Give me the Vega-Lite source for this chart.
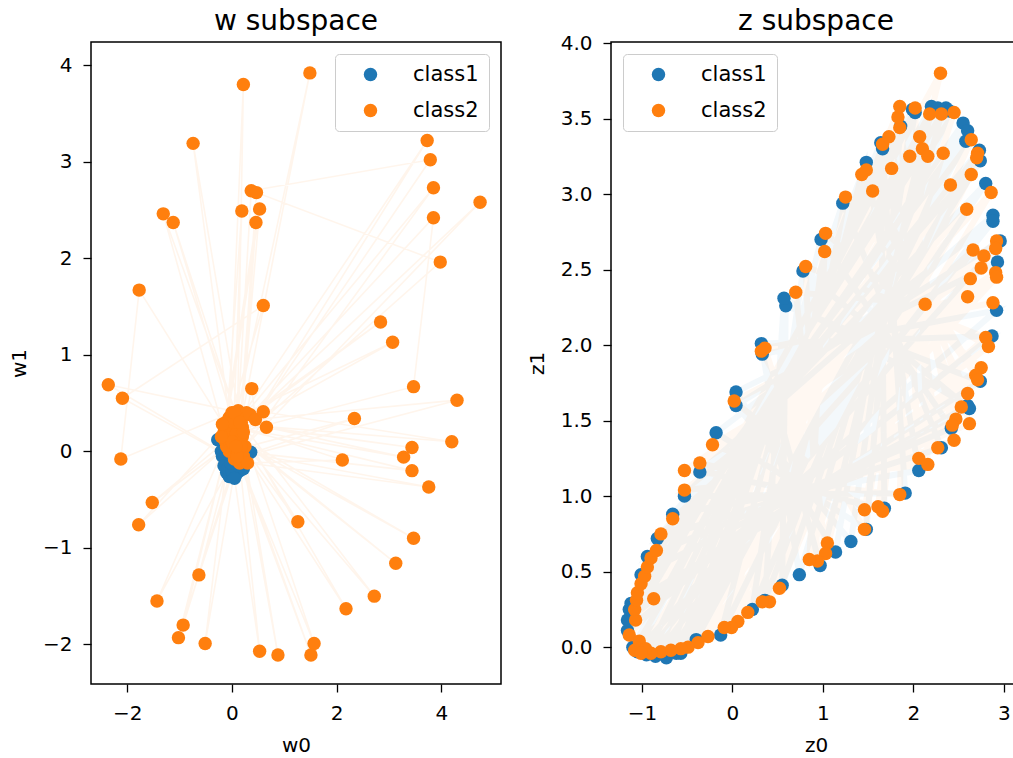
{
  "$schema": "https://vega.github.io/schema/vega-lite/v6.json",
  "background": "white",
  "padding": {"left": 8, "top": 7, "right": 0, "bottom": 0},
  "config": {
    "font": "DejaVu Sans",
    "view": {"stroke": "black", "strokeWidth": 1.5},
    "axis": {"grid": false, "domain": false, "tickColor": "black", "tickSize": 8, "tickWidth": 1.3, "labelFontSize": 20, "labelColor": "black", "labelPadding": 11, "titleFontSize": 20, "titleFontWeight": "normal", "titleColor": "black", "labelFont": "DejaVu Sans", "titleFont": "DejaVu Sans"},
    "axisX": {"titlePadding": 12},
    "axisY": {"titlePadding": 13},
    "title": {"fontSize": 28, "fontWeight": "normal", "color": "black", "font": "DejaVu Sans", "baseline": "alphabetic", "offset": 6, "frame": "group"},
    "legend": {"offset": 12, "padding": 10, "strokeColor": "#cccccc", "fillColor": "rgba(255,255,255,0.8)", "cornerRadius": 4, "symbolSize": 180, "symbolType": "circle", "labelFontSize": 21, "labelFont": "DejaVu Sans", "labelColor": "black", "labelOffset": 32, "rowPadding": 14, "symbolOffset": 15}
  },
  "datasets": {
    "w": [
      {"c":"class1","i":0,"x":-0.18,"y":-0.05},{"c":"class1","i":1,"x":0.15,"y":-0.20},{"c":"class1","i":2,"x":-0.10,"y":-0.22},{"c":"class1","i":3,"x":0.25,"y":-0.05},{"c":"class1","i":4,"x":-0.05,"y":-0.26},{"c":"class1","i":5,"x":0.20,"y":-0.12},{"c":"class1","i":6,"x":0.02,"y":-0.25},{"c":"class1","i":7,"x":-0.12,"y":0.05},{"c":"class1","i":8,"x":0.08,"y":-0.24},{"c":"class1","i":9,"x":-0.05,"y":-0.10},{"c":"class1","i":10,"x":0.36,"y":-0.01},{"c":"class1","i":11,"x":-0.15,"y":-0.15},{"c":"class1","i":12,"x":0.05,"y":-0.15},{"c":"class1","i":13,"x":-0.27,"y":0.12},{"c":"class1","i":14,"x":0.10,"y":-0.05},{"c":"class1","i":15,"x":0.00,"y":0.00},{"c":"class1","i":16,"x":0.12,"y":0.05},{"c":"class1","i":17,"x":-0.15,"y":0.12},{"c":"class1","i":18,"x":0.05,"y":0.10},{"c":"class1","i":19,"x":0.18,"y":0.02},{"c":"class1","i":20,"x":-0.08,"y":-0.18},{"c":"class1","i":21,"x":0.12,"y":-0.15},{"c":"class1","i":22,"x":0.00,"y":-0.20},{"c":"class1","i":23,"x":-0.20,"y":0.00},{"c":"class1","i":24,"x":0.22,"y":-0.18},{"c":"class1","i":25,"x":0.05,"y":-0.28},{"c":"class1","i":26,"x":-0.02,"y":-0.12},
      {"c":"class2","i":0,"x":0.00,"y":0.15},{"c":"class2","i":1,"x":1.49,"y":3.92},{"c":"class2","i":2,"x":0.10,"y":0.10},{"c":"class2","i":3,"x":0.22,"y":3.80},{"c":"class2","i":4,"x":-0.05,"y":0.35},{"c":"class2","i":5,"x":-0.74,"y":3.19},{"c":"class2","i":6,"x":0.12,"y":0.42},{"c":"class2","i":7,"x":0.37,"y":2.70},{"c":"class2","i":8,"x":3.79,"y":3.02},{"c":"class2","i":9,"x":0.20,"y":0.15},{"c":"class2","i":10,"x":3.73,"y":3.22},{"c":"class2","i":11,"x":0.05,"y":0.25},{"c":"class2","i":12,"x":3.85,"y":2.73},{"c":"class2","i":13,"x":0.25,"y":0.05},{"c":"class2","i":14,"x":4.74,"y":2.58},{"c":"class2","i":15,"x":-0.12,"y":0.10},{"c":"class2","i":16,"x":3.85,"y":2.42},{"c":"class2","i":17,"x":3.47,"y":0.67},{"c":"class2","i":18,"x":0.15,"y":0.20},{"c":"class2","i":19,"x":0.47,"y":2.68},{"c":"class2","i":20,"x":3.98,"y":1.96},{"c":"class2","i":21,"x":0.02,"y":0.05},{"c":"class2","i":22,"x":0.19,"y":2.49},{"c":"class2","i":23,"x":-0.10,"y":0.28},{"c":"class2","i":24,"x":0.53,"y":2.51},{"c":"class2","i":25,"x":0.18,"y":0.30},{"c":"class2","i":26,"x":0.46,"y":2.37},{"c":"class2","i":27,"x":-0.15,"y":0.20},{"c":"class2","i":28,"x":-1.31,"y":2.46},{"c":"class2","i":29,"x":0.08,"y":0.38},{"c":"class2","i":30,"x":-1.12,"y":2.37},{"c":"class2","i":31,"x":0.22,"y":-0.05},{"c":"class2","i":32,"x":-1.77,"y":1.67},{"c":"class2","i":33,"x":-2.12,"y":-0.08},{"c":"class2","i":34,"x":0.00,"y":0.40},{"c":"class2","i":35,"x":0.60,"y":1.51},{"c":"class2","i":36,"x":-2.09,"y":0.55},{"c":"class2","i":37,"x":0.15,"y":-0.12},{"c":"class2","i":38,"x":-2.36,"y":0.69},{"c":"class2","i":39,"x":0.35,"y":0.38},{"c":"class2","i":40,"x":2.84,"y":1.34},{"c":"class2","i":41,"x":-0.08,"y":0.18},{"c":"class2","i":42,"x":3.07,"y":1.13},{"c":"class2","i":43,"x":0.28,"y":0.40},{"c":"class2","i":44,"x":0.38,"y":0.65},{"c":"class2","i":45,"x":0.45,"y":0.33},{"c":"class2","i":46,"x":4.30,"y":0.53},{"c":"class2","i":47,"x":0.05,"y":-0.08},{"c":"class2","i":48,"x":2.34,"y":0.34},{"c":"class2","i":49,"x":-0.05,"y":0.00},{"c":"class2","i":50,"x":0.60,"y":0.41},{"c":"class2","i":51,"x":4.20,"y":0.10},{"c":"class2","i":52,"x":0.10,"y":0.28},{"c":"class2","i":53,"x":3.44,"y":0.04},{"c":"class2","i":54,"x":0.66,"y":0.25},{"c":"class2","i":55,"x":3.28,"y":-0.06},{"c":"class2","i":56,"x":0.00,"y":0.25},{"c":"class2","i":57,"x":3.44,"y":-0.20},{"c":"class2","i":58,"x":0.12,"y":0.00},{"c":"class2","i":59,"x":3.76,"y":-0.37},{"c":"class2","i":60,"x":0.30,"y":-0.12},{"c":"class2","i":61,"x":2.11,"y":-0.09},{"c":"class2","i":62,"x":0.20,"y":0.25},{"c":"class2","i":63,"x":-1.52,"y":-0.53},{"c":"class2","i":64,"x":-0.10,"y":0.05},{"c":"class2","i":65,"x":-1.78,"y":-0.76},{"c":"class2","i":66,"x":0.05,"y":0.33},{"c":"class2","i":67,"x":1.26,"y":-0.73},{"c":"class2","i":68,"x":0.15,"y":0.10},{"c":"class2","i":69,"x":3.47,"y":-0.90},{"c":"class2","i":70,"x":-0.02,"y":0.20},{"c":"class2","i":71,"x":3.13,"y":-1.16},{"c":"class2","i":72,"x":0.08,"y":0.18},{"c":"class2","i":73,"x":-0.63,"y":-1.28},{"c":"class2","i":74,"x":0.18,"y":0.05},{"c":"class2","i":75,"x":-1.43,"y":-1.55},{"c":"class2","i":76,"x":0.10,"y":0.35},{"c":"class2","i":77,"x":2.72,"y":-1.50},{"c":"class2","i":78,"x":-0.12,"y":0.30},{"c":"class2","i":79,"x":2.18,"y":-1.63},{"c":"class2","i":80,"x":0.22,"y":0.20},{"c":"class2","i":81,"x":-0.93,"y":-1.80},{"c":"class2","i":82,"x":0.02,"y":0.30},{"c":"class2","i":83,"x":-1.02,"y":-1.93},{"c":"class2","i":84,"x":0.10,"y":-0.05},{"c":"class2","i":85,"x":-0.51,"y":-1.99},{"c":"class2","i":86,"x":-0.05,"y":0.10},{"c":"class2","i":87,"x":0.53,"y":-2.07},{"c":"class2","i":88,"x":0.05,"y":0.40},{"c":"class2","i":89,"x":0.88,"y":-2.11},{"c":"class2","i":90,"x":0.15,"y":0.30},{"c":"class2","i":91,"x":1.57,"y":-1.99},{"c":"class2","i":92,"x":0.00,"y":0.10},{"c":"class2","i":93,"x":1.51,"y":-2.11},{"c":"class2","i":94,"x":0.08,"y":0.05},{"c":"class2","i":95,"x":-0.20,"y":0.15},{"c":"class2","i":96,"x":-0.18,"y":0.28}
    ],
    "z": [
      {"c":"class1","i":0,"x":-1.10,"y":0.00},{"c":"class1","i":5,"x":-1.16,"y":0.11},{"c":"class1","i":10,"x":-1.16,"y":0.18},{"c":"class1","i":15,"x":-1.14,"y":0.25},{"c":"class1","i":20,"x":-1.12,"y":0.29},{"c":"class1","i":25,"x":-1.01,"y":0.48},{"c":"class1","i":30,"x":-0.94,"y":0.60},{"c":"class1","i":35,"x":-0.83,"y":0.72},{"c":"class1","i":40,"x":-0.66,"y":0.88},{"c":"class1","i":45,"x":-0.53,"y":1.00},{"c":"class1","i":50,"x":-0.36,"y":1.16},{"c":"class1","i":55,"x":-0.18,"y":1.42},{"c":"class1","i":60,"x":0.04,"y":1.60},{"c":"class1","i":65,"x":0.04,"y":1.69},{"c":"class1","i":3,"x":0.33,"y":1.94},{"c":"class1","i":8,"x":0.32,"y":2.01},{"c":"class1","i":13,"x":0.59,"y":2.26},{"c":"class1","i":18,"x":0.57,"y":2.31},{"c":"class1","i":23,"x":0.78,"y":2.49},{"c":"class1","i":28,"x":0.98,"y":2.70},{"c":"class1","i":33,"x":1.22,"y":2.94},{"c":"class1","i":38,"x":1.48,"y":3.21},{"c":"class1","i":43,"x":1.66,"y":3.30},{"c":"class1","i":48,"x":1.64,"y":3.34},{"c":"class1","i":53,"x":1.86,"y":3.45},{"c":"class1","i":58,"x":1.99,"y":3.56},{"c":"class1","i":63,"x":2.02,"y":3.54},{"c":"class1","i":1,"x":2.20,"y":3.58},{"c":"class1","i":6,"x":2.27,"y":3.57},{"c":"class1","i":11,"x":2.36,"y":3.57},{"c":"class1","i":16,"x":2.40,"y":3.55},{"c":"class1","i":21,"x":2.55,"y":3.47},{"c":"class1","i":26,"x":2.60,"y":3.42},{"c":"class1","i":31,"x":2.58,"y":3.35},{"c":"class1","i":36,"x":2.73,"y":3.29},{"c":"class1","i":41,"x":2.74,"y":3.22},{"c":"class1","i":46,"x":2.80,"y":3.07},{"c":"class1","i":51,"x":2.88,"y":2.86},{"c":"class1","i":56,"x":2.88,"y":2.82},{"c":"class1","i":61,"x":2.96,"y":2.69},{"c":"class1","i":66,"x":2.93,"y":2.55},{"c":"class1","i":4,"x":2.92,"y":2.23},{"c":"class1","i":9,"x":2.87,"y":2.06},{"c":"class1","i":14,"x":2.74,"y":1.76},{"c":"class1","i":19,"x":2.60,"y":1.60},{"c":"class1","i":24,"x":2.62,"y":1.58},{"c":"class1","i":29,"x":2.42,"y":1.45},{"c":"class1","i":34,"x":2.31,"y":1.32},{"c":"class1","i":39,"x":2.06,"y":1.17},{"c":"class1","i":44,"x":1.91,"y":1.02},{"c":"class1","i":49,"x":1.68,"y":0.92},{"c":"class1","i":54,"x":1.48,"y":0.78},{"c":"class1","i":59,"x":1.31,"y":0.70},{"c":"class1","i":64,"x":1.14,"y":0.63},{"c":"class1","i":2,"x":0.97,"y":0.54},{"c":"class1","i":7,"x":0.74,"y":0.48},{"c":"class1","i":12,"x":0.55,"y":0.41},{"c":"class1","i":17,"x":0.36,"y":0.31},{"c":"class1","i":22,"x":0.22,"y":0.25},{"c":"class1","i":27,"x":-0.13,"y":0.08},{"c":"class1","i":32,"x":-0.40,"y":0.05},{"c":"class1","i":37,"x":-0.57,"y":-0.04},{"c":"class1","i":42,"x":-0.62,"y":-0.04},{"c":"class1","i":47,"x":-0.73,"y":-0.07},{"c":"class1","i":52,"x":-0.85,"y":-0.06},{"c":"class1","i":57,"x":-0.95,"y":-0.05},{"c":"class1","i":62,"x":-1.05,"y":-0.03},
      {"c":"class2","i":0,"x":-1.08,"y":-0.02},{"c":"class2","i":98,"x":-1.14,"y":0.08},{"c":"class2","i":93,"x":-1.03,"y":0.04},{"c":"class2","i":88,"x":-1.07,"y":0.18},{"c":"class2","i":83,"x":-1.08,"y":0.25},{"c":"class2","i":78,"x":-1.06,"y":0.31},{"c":"class2","i":73,"x":-1.05,"y":0.36},{"c":"class2","i":68,"x":-0.87,"y":0.32},{"c":"class2","i":63,"x":-1.01,"y":0.42},{"c":"class2","i":58,"x":-0.97,"y":0.47},{"c":"class2","i":53,"x":-0.94,"y":0.53},{"c":"class2","i":48,"x":-0.90,"y":0.59},{"c":"class2","i":43,"x":-0.84,"y":0.64},{"c":"class2","i":38,"x":-0.79,"y":0.75},{"c":"class2","i":33,"x":-0.66,"y":0.85},{"c":"class2","i":28,"x":-0.53,"y":1.04},{"c":"class2","i":23,"x":-0.53,"y":1.17},{"c":"class2","i":18,"x":-0.36,"y":1.22},{"c":"class2","i":13,"x":-0.22,"y":1.34},{"c":"class2","i":8,"x":0.02,"y":1.63},{"c":"class2","i":3,"x":0.32,"y":1.96},{"c":"class2","i":101,"x":0.36,"y":1.98},{"c":"class2","i":96,"x":0.70,"y":2.35},{"c":"class2","i":91,"x":0.81,"y":2.52},{"c":"class2","i":86,"x":1.02,"y":2.62},{"c":"class2","i":81,"x":1.03,"y":2.74},{"c":"class2","i":76,"x":1.25,"y":2.98},{"c":"class2","i":71,"x":1.55,"y":3.02},{"c":"class2","i":66,"x":1.43,"y":3.13},{"c":"class2","i":61,"x":1.48,"y":3.16},{"c":"class2","i":56,"x":1.76,"y":3.17},{"c":"class2","i":51,"x":1.66,"y":3.33},{"c":"class2","i":46,"x":1.73,"y":3.38},{"c":"class2","i":41,"x":1.85,"y":3.44},{"c":"class2","i":36,"x":1.83,"y":3.51},{"c":"class2","i":31,"x":1.85,"y":3.58},{"c":"class2","i":26,"x":2.02,"y":3.57},{"c":"class2","i":21,"x":1.96,"y":3.25},{"c":"class2","i":16,"x":2.07,"y":3.38},{"c":"class2","i":11,"x":2.10,"y":3.30},{"c":"class2","i":6,"x":2.16,"y":3.25},{"c":"class2","i":1,"x":2.18,"y":3.53},{"c":"class2","i":99,"x":2.30,"y":3.80},{"c":"class2","i":94,"x":2.31,"y":3.53},{"c":"class2","i":89,"x":2.33,"y":3.27},{"c":"class2","i":84,"x":2.45,"y":3.54},{"c":"class2","i":79,"x":2.41,"y":3.06},{"c":"class2","i":74,"x":2.64,"y":3.36},{"c":"class2","i":69,"x":2.71,"y":3.27},{"c":"class2","i":64,"x":2.70,"y":3.24},{"c":"class2","i":59,"x":2.64,"y":3.13},{"c":"class2","i":54,"x":2.86,"y":3.01},{"c":"class2","i":49,"x":2.59,"y":2.90},{"c":"class2","i":44,"x":2.92,"y":2.69},{"c":"class2","i":39,"x":2.91,"y":2.64},{"c":"class2","i":34,"x":2.66,"y":2.63},{"c":"class2","i":29,"x":2.78,"y":2.59},{"c":"class2","i":24,"x":2.75,"y":2.51},{"c":"class2","i":19,"x":2.91,"y":2.48},{"c":"class2","i":14,"x":2.92,"y":2.45},{"c":"class2","i":9,"x":2.63,"y":2.44},{"c":"class2","i":4,"x":2.60,"y":2.32},{"c":"class2","i":102,"x":2.88,"y":2.28},{"c":"class2","i":97,"x":2.13,"y":2.27},{"c":"class2","i":92,"x":2.80,"y":2.05},{"c":"class2","i":87,"x":2.83,"y":1.99},{"c":"class2","i":82,"x":2.75,"y":1.85},{"c":"class2","i":77,"x":2.69,"y":1.80},{"c":"class2","i":72,"x":2.71,"y":1.77},{"c":"class2","i":67,"x":2.60,"y":1.68},{"c":"class2","i":62,"x":2.53,"y":1.59},{"c":"class2","i":57,"x":2.47,"y":1.51},{"c":"class2","i":52,"x":2.62,"y":1.48},{"c":"class2","i":47,"x":2.43,"y":1.47},{"c":"class2","i":42,"x":2.45,"y":1.37},{"c":"class2","i":37,"x":2.27,"y":1.32},{"c":"class2","i":32,"x":2.06,"y":1.25},{"c":"class2","i":27,"x":2.16,"y":1.21},{"c":"class2","i":22,"x":1.85,"y":1.01},{"c":"class2","i":17,"x":1.61,"y":0.93},{"c":"class2","i":12,"x":1.66,"y":0.90},{"c":"class2","i":7,"x":1.46,"y":0.91},{"c":"class2","i":2,"x":1.46,"y":0.78},{"c":"class2","i":100,"x":1.05,"y":0.69},{"c":"class2","i":95,"x":1.03,"y":0.62},{"c":"class2","i":90,"x":0.94,"y":0.57},{"c":"class2","i":85,"x":0.85,"y":0.58},{"c":"class2","i":80,"x":0.52,"y":0.39},{"c":"class2","i":75,"x":0.41,"y":0.30},{"c":"class2","i":70,"x":0.33,"y":0.30},{"c":"class2","i":65,"x":0.17,"y":0.23},{"c":"class2","i":60,"x":0.06,"y":0.17},{"c":"class2","i":55,"x":-0.01,"y":0.13},{"c":"class2","i":50,"x":-0.09,"y":0.13},{"c":"class2","i":45,"x":-0.27,"y":0.07},{"c":"class2","i":40,"x":-0.38,"y":0.03},{"c":"class2","i":35,"x":-0.49,"y":0.00},{"c":"class2","i":30,"x":-0.57,"y":-0.01},{"c":"class2","i":25,"x":-0.68,"y":-0.02},{"c":"class2","i":20,"x":-0.79,"y":-0.03},{"c":"class2","i":15,"x":-0.90,"y":-0.04},{"c":"class2","i":10,"x":-0.96,"y":-0.01},{"c":"class2","i":5,"x":-1.01,"y":-0.04}
    ]
  },
  "hconcat": [
    {
      "width": 410, "height": 642,
      "title": {"text": "w subspace", "offset": 6},
      "data": {"name": "w"},
      "encoding": {
        "x": {"field": "x", "type": "quantitative", "scale": {"domain": [-2.69, 5.14], "nice": false, "zero": false}, "axis": {"title": "w0", "values": [-2, 0, 2, 4], "format": "d"}},
        "y": {"field": "y", "type": "quantitative", "scale": {"domain": [-2.41, 4.24], "nice": false, "zero": false}, "axis": {"title": "w1", "values": [-2, -1, 0, 1, 2, 3, 4], "format": "d"}}
      },
      "layer": [
        {
          "transform": [{"filter": "datum.c == 'class1'"}],
          "mark": {"type": "line", "strokeWidth": 1.6, "opacity": 0.08, "color": "#1f77b4"},
          "encoding": {"order": {"field": "i", "type": "quantitative"}}
        },
        {
          "transform": [{"filter": "datum.c == 'class2'"}],
          "mark": {"type": "line", "strokeWidth": 1.6, "opacity": 0.08, "color": "#ff7f0e"},
          "encoding": {"order": {"field": "i", "type": "quantitative"}}
        },
        {
          "mark": {"type": "circle", "size": 180, "opacity": 1},
          "encoding": {
            "color": {"field": "c", "type": "nominal", "scale": {"domain": ["class1", "class2"], "range": ["#1f77b4", "#ff7f0e"]}, "legend": {"title": null, "orient": "top-right"}}
          }
        }
      ]
    },
    {
      "width": 410, "height": 642,
      "title": {"text": "z subspace", "offset": -3},
      "data": {"name": "z"},
      "encoding": {
        "x": {"field": "x", "type": "quantitative", "scale": {"domain": [-1.342, 3.19], "nice": false, "zero": false}, "axis": {"title": "z0", "values": [-1, 0, 1, 2, 3], "format": "d"}},
        "y": {"field": "y", "type": "quantitative", "scale": {"domain": [-0.244, 4.007], "nice": false, "zero": false}, "axis": {"title": "z1", "values": [0, 0.5, 1, 1.5, 2, 2.5, 3, 3.5, 4], "format": ".1f"}}
      },
      "layer": [
        {
          "transform": [{"filter": "datum.c == 'class1'"}],
          "mark": {"type": "line", "strokeWidth": 6, "opacity": 0.055, "color": "#1f77b4"},
          "encoding": {"order": {"field": "i", "type": "quantitative"}}
        },
        {
          "transform": [{"filter": "datum.c == 'class2'"}],
          "mark": {"type": "line", "strokeWidth": 6, "opacity": 0.055, "color": "#ff7f0e"},
          "encoding": {"order": {"field": "i", "type": "quantitative"}}
        },
        {
          "mark": {"type": "circle", "size": 180, "opacity": 1},
          "encoding": {
            "color": {"field": "c", "type": "nominal", "scale": {"domain": ["class1", "class2"], "range": ["#1f77b4", "#ff7f0e"]}, "legend": {"title": null, "orient": "top-left"}}
          }
        }
      ]
    }
  ],
  "spacing": 110,
  "bounds": "flush",
  "resolve": {"scale": {"color": "independent", "x": "independent", "y": "independent"}, "legend": {"color": "independent"}, "axis": {"x": "independent", "y": "independent"}}
}
